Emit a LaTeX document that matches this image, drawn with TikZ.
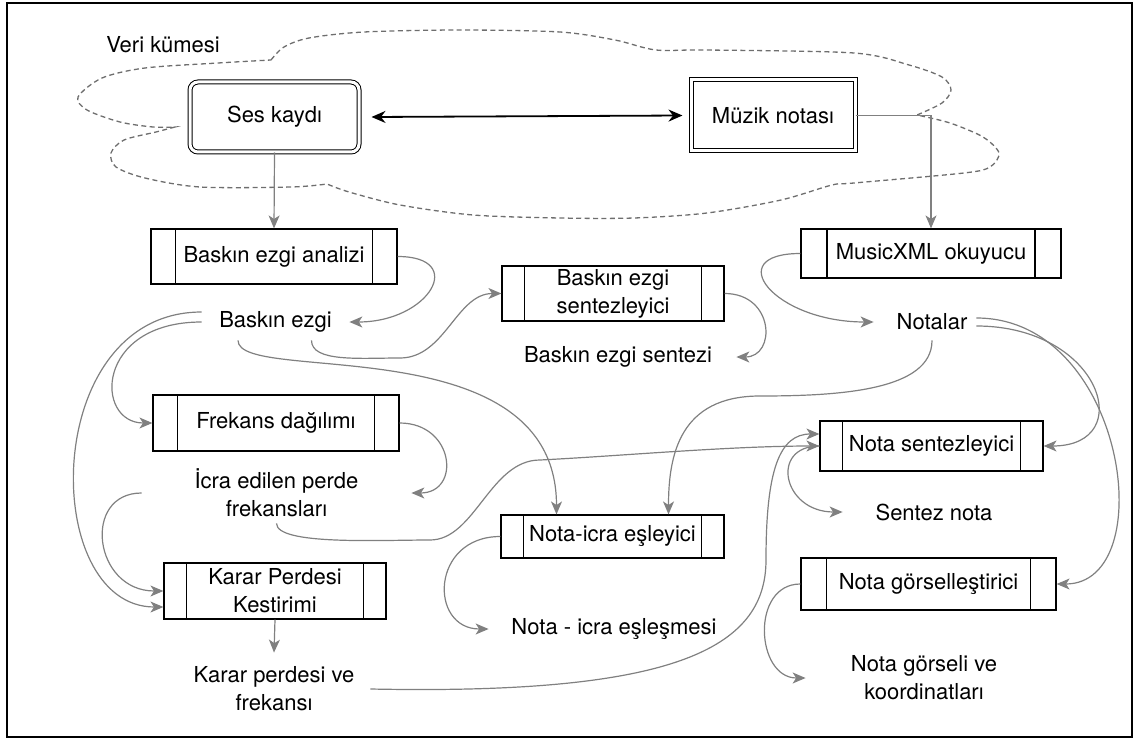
\documentclass[tikz,border=0pt]{standalone}
\usepackage{fontspec}
\setmainfont{TeX Gyre Heros}
\usetikzlibrary{arrows.meta,calc}

\definecolor{flowgray}{HTML}{808080}
\definecolor{cloudgray}{HTML}{6E6E6E}

\tikzset{
  flow/.style={draw=flowgray, line width=0.6pt,
    -{Stealth[length=6.5pt,width=5.5pt,inset=1.8pt]}},
  cloudline/.style={draw=cloudgray, line width=0.65pt, dash pattern=on 2.5pt off 1.7pt},
  procbox/.style 2 args={draw, line width=0.6pt, minimum width=#1, minimum height=#2,
    inner sep=1pt, align=center,
    path picture={
      \draw[line width=0.6pt]
        ($(path picture bounding box.north west)!0.1!(path picture bounding box.north east)$) --
        ($(path picture bounding box.south west)!0.1!(path picture bounding box.south east)$);
      \draw[line width=0.6pt]
        ($(path picture bounding box.north west)!0.9!(path picture bounding box.north east)$) --
        ($(path picture bounding box.south west)!0.9!(path picture bounding box.south east)$);
    }},
  databox/.style 2 args={draw, double, double distance=1.5pt, line width=0.5pt,
    minimum width=#1, minimum height=#2},
  txt/.style 2 args={minimum width=#1, minimum height=#2, inner sep=1pt, align=center},
}

\begin{document}
\begin{tikzpicture}[x=0.5pt, y=-0.5pt, font=\fontsize{11pt}{14pt}\selectfont]

  \useasboundingbox (0,0) rectangle (1135,738);
  \draw[line width=1pt] (7,3) rectangle (1132,737);

  % veri kumesi
  \draw[cloudline]
    plot[smooth] coordinates {(271,60) (284,47) (309,38) (364,32) (460,30) (560,32) (615,40)
      (656,50) (707,50) (854,53) (909,65) (942,77) (951,90) (942,103) (917,115)}
    -- plot[smooth] coordinates {(917,115) (950,123) (983,137) (999,153) (990,167) (964,173)
      (854,183) (832,185) (781,200) (707,213) (634,218) (560,218) (473,215) (400,205)
      (349,192) (327,184)}
    -- plot[smooth] coordinates {(327,184) (291,187) (200,187) (145,178) (116,167) (111,153)
      (124,140) (156,132) (175,127)}
    -- plot[smooth] coordinates {(175,127) (153,127) (120,122) (87,110) (78,97) (102,78)
      (145,68) (218,63) (271,60)};
  \node (veri) at (163,45) {Veri kümesi};

  \node[databox={84.5pt}{35pt}, rounded corners=4pt] (ses) at (274.5,117) {Ses kaydı};
  \node[databox={82pt}{35.5pt}] (muzik) at (773,115.5) {Müzik notası};

  \node[procbox={123pt}{27.5pt}] (bea) at (274,256.5) {Baskın ezgi analizi};
  \node[procbox={111pt}{27.5pt}] (bes) at (613,293.5) {Baskın ezgi\\sentezleyici};
  \node[procbox={130pt}{24.5pt}] (mxml) at (931,253.5) {MusicXML okuyucu};
  \node[procbox={123pt}{28pt}] (fd) at (276,423) {Frekans dağılımı};
  \node[procbox={111pt}{28pt}] (kpk) at (275,591) {Karar Perdesi\\Kestirimi};
  \node[procbox={111.5pt}{21.5pt}] (nie) at (612.5,536.5) {Nota-icra eşleyici};
  \node[procbox={111.5pt}{25pt}] (ns) at (931.5,446) {Nota sentezleyici};
  \node[procbox={127.5pt}{26pt}] (ng) at (928.5,584) {Nota görselleştirici};

  \node[txt={73.5pt}{18pt}] (be) at (275.5,322) {Baskın ezgi};
  \node[txt={118pt}{18pt}] (bess) at (618,357) {Baskın ezgi sentezi};
  \node[txt={58pt}{18pt}] (notalar) at (932,322) {Notalar};
  \node[txt={134.5pt}{30pt}] (iepf) at (276.5,493) {İcra edilen perde\\frekansları};
  \node[txt={96pt}{36pt}] (kpvf) at (274,689) {Karar perdesi ve\\frekansı};
  \node[txt={125pt}{18pt}] (niee) at (614,629) {Nota - icra eşleşmesi};
  \node[txt={91pt}{18pt}] (sn) at (934,512) {Sentez nota};
  \node[txt={118pt}{30pt}] (ngk) at (924,678) {Nota görseli ve\\koordinatları};

  \draw[line width=0.9pt, {Stealth[length=7pt,width=6pt]}-{Stealth[length=7pt,width=6pt]}]
    ([xshift=6pt]ses.east) -- ([xshift=-4pt]muzik.west);

  \begin{scope}[every edge/.style={flow}]
    \path (ses.south) edge (bea.north);
    \path (kpk.south) edge (kpvf.north);
  \end{scope}

  \draw[flow] (muzik.east) -| (mxml.north);
  \draw[flow] (bea.east) .. controls +(70,0) and +(80,0) .. (be.east);
  \draw[flow] ([xshift=18pt]be.south) .. controls +(0,22) and +(-40,0) .. (400,358)
    .. controls +(45,0) and +(-45,0) .. (bes.west);
  \draw[flow] (bes.east) .. controls +(50,0) and +(40,0) .. (bess.east);
  \draw[flow] (mxml.west) .. controls +(-80,0) and +(-100,0) .. (notalar.west);
  \draw[flow] (notalar.south) .. controls +(0,50) and +(80,0) .. (760,396)
    .. controls +(-80,0) and +(0,-60) .. ([xshift=28pt]nie.north);
  \draw[flow] ([xshift=-7pt,yshift=-2pt]notalar.east) .. controls +(125,0) and +(95,0) .. (ns.east);
  \draw[flow] ([xshift=-7pt,yshift=2pt]notalar.east) .. controls +(150,0) and +(105,0) .. (ng.east);

  \draw[flow] (be.west) .. controls +(-107,0) and +(-58,0) .. (fd.west);
  \draw[flow] ([yshift=5pt]be.west) .. controls +(-162,0) and +(-124,0) .. ([yshift=-8pt]kpk.west);
  \draw[flow] (fd.east) .. controls +(55,0) and +(50,0) .. (iepf.east);
  \draw[flow] (iepf.west) .. controls +(-60,0) and +(-70,0) .. (kpk.west);
  \draw[flow] ([xshift=-18.75pt]be.south) .. controls +(0,45) and +(0,-190) .. ([xshift=-28pt]nie.north);
  \draw[flow] (iepf.south) .. controls +(0,22) and +(-50,0) .. (430,540)
    .. controls +(45,0) and +(-50,0) .. (540,460)
    .. controls +(80,-4) and +(-90,0) .. (ns.west);
  \draw[flow] (kpvf.east) .. controls +(300,6) and +(0,90) .. (766,560)
    .. controls +(0,-90) and +(-40,0) .. ([yshift=6pt]ns.west);
  \draw[flow] (ns.west) .. controls +(-50,0) and +(-60,0) .. (sn.west);
  \draw[flow] (nie.west) .. controls +(-70,0) and +(-60,0) .. (niee.west);
  \draw[flow] (ng.west) .. controls +(-50,0) and +(-50,0) .. (ngk.west);

\end{tikzpicture}
\end{document}
